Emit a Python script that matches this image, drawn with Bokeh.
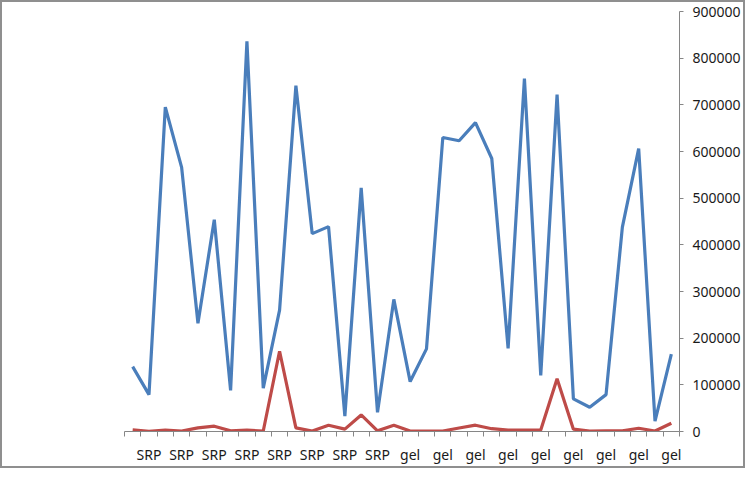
from bokeh.plotting import figure
from bokeh.models import FixedTicker, BasicTickFormatter, Range1d, ColumnDataSource
from bokeh.embed import file_html
from bokeh.resources import INLINE

# Categories (Excel shows every other label)
categories = ["SRP"] * 16 + ["gel"] * 18

blue_values = [139000, 79000, 695000, 566000, 232000, 454000, 88000, 836000,
               93000, 260000, 741000, 424000, 439000, 33000, 522000, 41000,
               283000, 107000, 177000, 630000, 623000, 662000, 585000, 178000,
               756000, 120000, 722000, 70000, 52000, 79000, 438000, 606000,
               22000, 166000]

red_values = [3500, 500, 3000, 1000, 7800, 11400, 1500, 3000,
              1000, 172000, 7800, 1000, 13500, 5000, 35500, 1500,
              13500, 1000, 1000, 1000, 7500, 13500, 6000, 3000,
              3000, 3000, 113000, 5000, 1000, 1500, 1500, 7000,
              1000, 17800]

y_ticks = [0, 100000, 200000, 300000, 400000, 500000, 600000, 700000, 800000, 900000]

n = len(categories)
xs = list(range(1, n + 1))
src = ColumnDataSource(dict(x=xs, blue=blue_values, red=red_values, cat=categories))

p = figure(frame_width=555, frame_height=420, output_backend="svg", toolbar_location=None,
           x_range=Range1d(0.5, n + 0.5), y_range=Range1d(0, 900000),
           y_axis_location="right", min_border_left=122, min_border_top=9,
           min_border_right=0, min_border_bottom=0)
p.styles = {"border": "2px solid #8f8f8f", "box-sizing": "border-box"}

p.line("x", "blue", source=src, line_color="#4A7EBB", line_width=3.2)
p.line("x", "red", source=src, line_color="#BE4B48", line_width=3.2)

p.grid.visible = False
p.outline_line_color = None
p.background_fill_color = "white"
p.border_fill_color = "white"

label_pos = [i for i in xs if i % 2 == 0]
xa = p.xaxis[0]
xa.ticker = FixedTicker(ticks=label_pos, minor_ticks=[i + 0.5 for i in range(0, n + 1)])
xa.major_label_overrides = {i: categories[i - 1] for i in label_pos}
xa.major_tick_out = 0
xa.major_tick_in = 0
xa.minor_tick_out = 5
xa.minor_tick_in = 0
xa.minor_tick_line_color = "#868686"
xa.axis_line_color = "#868686"
xa.major_label_text_font = "Noto Sans"
xa.major_label_text_font_size = "14px"
xa.major_label_text_color = "#1a1a1a"
xa.major_label_standoff = 8

ya = p.yaxis[0]
ya.ticker = FixedTicker(ticks=y_ticks)
ya.formatter = BasicTickFormatter(use_scientific=False)
ya.major_tick_out = 4
ya.major_tick_in = 0
ya.minor_tick_line_color = None
ya.major_tick_line_color = "#868686"
ya.axis_line_color = "#868686"
ya.major_label_text_font = "Noto Sans"
ya.major_label_text_font_size = "14px"
ya.major_label_text_color = "#1a1a1a"
ya.major_label_standoff = 9

open("out.html", "w").write(file_html(p, INLINE))
